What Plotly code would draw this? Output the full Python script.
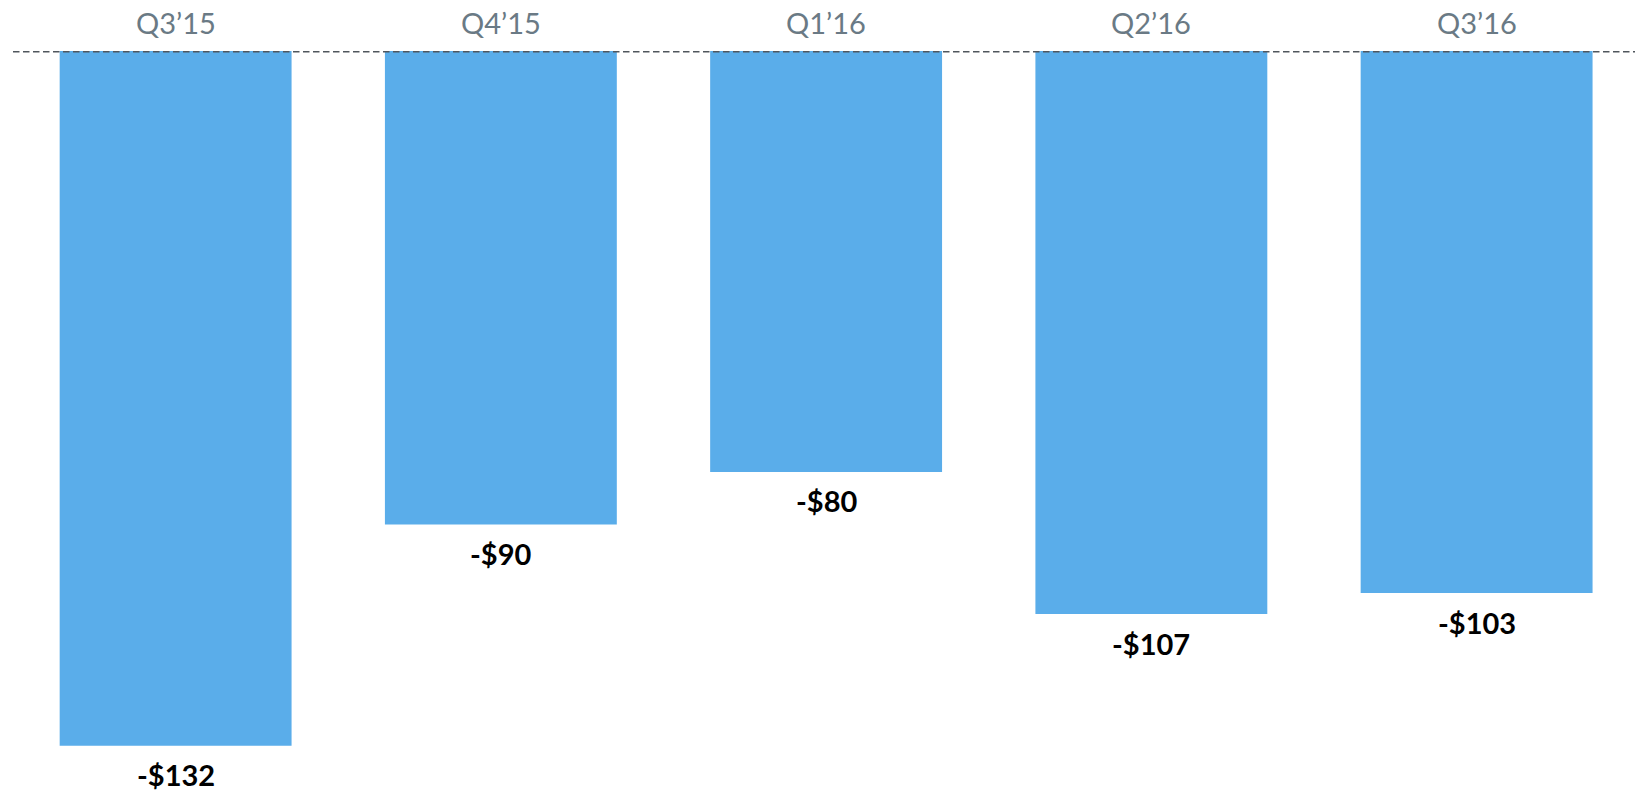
import plotly.graph_objects as go

categories = ["Q3’15", "Q4’15", "Q1’16", "Q2’16", "Q3’16"]
values = [-132, -90, -80, -107, -103]
value_labels = ["-$132", "-$90", "-$80", "-$107", "-$103"]

bar_color = "#5AADEA"
cat_color = "#6A7A85"
font_family = "Lato, 'Open Sans', sans-serif"

fig = go.Figure()
fig.add_trace(go.Bar(
    x=categories, y=values,
    marker=dict(color=bar_color, line=dict(width=0)),
    hoverinfo="skip",
))

annotations = []
for c, v, t in zip(categories, values, value_labels):
    annotations.append(dict(
        x=c, y=v, xref="x", yref="y", text=f"<b>{t}</b>",
        showarrow=False, yanchor="middle", yshift=-29,
        font=dict(size=29, color="#000000", family=font_family),
    ))
    annotations.append(dict(
        x=c, y=1, xref="x", yref="paper", text=c,
        showarrow=False, yanchor="middle", yshift=29,
        font=dict(size=29, color=cat_color, family=font_family),
    ))

fig.update_layout(
    width=1635, height=793,
    margin=dict(l=13, r=0, t=51, b=0),
    paper_bgcolor="white", plot_bgcolor="white",
    showlegend=False,
    bargap=0.287,
    xaxis=dict(visible=False, range=[-0.5, 4.487], type="category"),
    yaxis=dict(visible=False, range=[-141, 0]),
    annotations=annotations,
    shapes=[dict(
        type="line", xref="paper", yref="y", x0=0, x1=1, y0=0, y1=0,
        line=dict(color="#50565d", width=3, dash="6.5px,3.5px"),
        layer="above",
    )],
)

fig.write_html(
    "out.html",
    config={"displayModeBar": False},
    post_script="document.body.style.margin='0';document.body.style.overflow='hidden';",
)
